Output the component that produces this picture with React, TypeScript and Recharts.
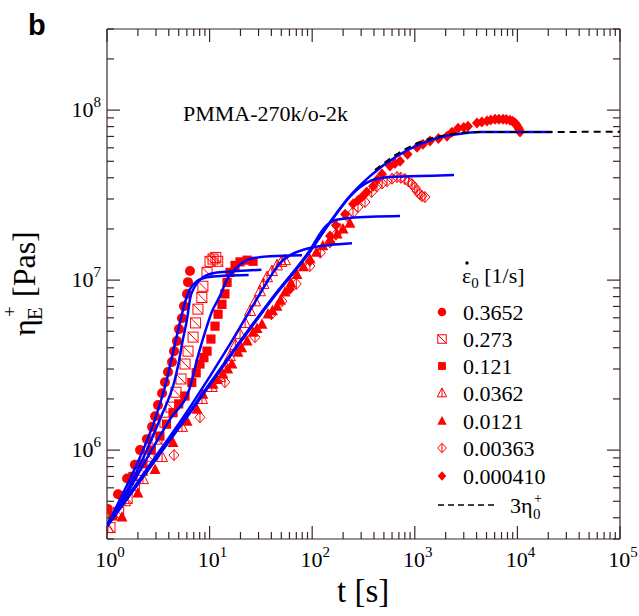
import React from 'react';
import { ComposedChart, XAxis, YAxis, Scatter, Line } from 'recharts';

const SERIF = 'Liberation Serif';
const SANS = 'Liberation Sans';
const RED = '#ff0000';
const BLUE = '#0000ff';
const FRAME = '#3a2626';

// strain rates [1/s] shown in the legend, and the marker used for each
const rateLabels = ['0.3652', '0.273', '0.121', '0.0362', '0.0121', '0.00363', '0.000410'];
const markerKinds = ['circle', 'squareOpen', 'square', 'triOpen', 'tri', 'diaOpen', 'dia'];

// measured eta_E+ [Pa s] vs t [s], one pair of arrays per rate
const tR1 = [1.02, 1.28, 1.57, 1.87, 2.1, 2.45, 2.75, 2.94, 3.14, 3.44, 3.67, 3.93, 4.3, 4.5, 4.8, 5.03, 5.38, 5.63, 6.02, 6.16, 6.44];
const etaR1 = [4.5e5, 5.5e5, 6.8e5, 8.2e5, 1.0e6, 1.16e6, 1.37e6, 1.58e6, 1.84e6, 2.16e6, 2.51e6, 2.88e6, 3.3e6, 3.82e6, 4.38e6, 5.15e6, 5.97e6, 7.03e6, 8.28e6, 9.73e6, 1.13e7];

const tR2 = [1.07, 1.3, 1.57, 1.85, 2.2, 2.57, 3.07, 3.67, 4.2, 4.7, 5.26, 5.76, 6.16, 6.9, 7.3, 7.7, 8.4, 8.6, 9.44, 10.1, 10.8, 11.5, 12.0];
const etaR2 = [3.5e5, 4.3e5, 5.2e5, 6.2e5, 7.6e5, 9.2e5, 1.16e6, 1.46e6, 1.79e6, 2.19e6, 2.62e6, 3.21e6, 3.82e6, 4.62e6, 5.6e6, 6.75e6, 7.9e6, 9.2e6, 1.11e7, 1.29e7, 1.33e7, 1.36e7, 1.29e7];

const tR3 = [1.14, 1.43, 1.79, 2.24, 2.7, 3.28, 3.8, 4.4, 5.0, 5.76, 6.7, 7.4, 8.06, 8.8, 9.44, 10.3, 11.3, 12.1, 13.2, 14.1, 14.8, 15.8, 17.7, 19.8, 23.2, 26.5];
const etaR3 = [4.1e5, 5.4e5, 7.0e5, 8.3e5, 1.0e6, 1.21e6, 1.42e6, 1.66e6, 1.87e6, 2.08e6, 2.5e6, 2.85e6, 3.21e6, 3.5e6, 3.82e6, 4.5e6, 5.36e6, 6.3e6, 7.2e6, 8.3e6, 9.7e6, 1.11e7, 1.22e7, 1.28e7, 1.31e7, 1.29e7];

const tR4 = [1.02, 1.5, 2.24, 3.44, 5.38, 8.43, 10.5, 12.6, 14.2, 15.8, 17.8, 19.8, 22.2, 24.8, 27.8, 31, 33.5, 36.3, 40.5, 45.4, 50, 54.3];
const etaR4 = [3.48e5, 5.0e5, 6.75e5, 9.1e5, 1.37e6, 2.0e6, 2.35e6, 2.69e6, 3.1e6, 3.57e6, 4.15e6, 4.81e6, 5.6e6, 6.58e6, 7.5e6, 8.6e6, 9.5e6, 1.04e7, 1.13e7, 1.22e7, 1.28e7, 1.31e7];

const tR5 = [1.4, 2.0, 2.94, 4.4, 6.03, 7.54, 8.6, 10.8, 11.9, 13.5, 15, 16.5, 18.9, 20.5, 23.2, 26.5, 29, 32.4, 37.1, 41, 45.4, 49, 54.3, 62, 71, 82, 95, 110, 127, 150, 175, 200, 233];
const etaR5 = [4.04e5, 5.6e5, 7.7e5, 1.11e6, 1.48e6, 1.74e6, 2.13e6, 2.44e6, 2.6e6, 2.8e6, 3.0e6, 3.21e6, 3.77e6, 4.0e6, 4.38e6, 4.94e6, 5.2e6, 5.5e6, 6.31e6, 6.6e6, 7.03e6, 7.6e6, 8.5e6, 9.6e6, 1.08e7, 1.2e7, 1.33e7, 1.46e7, 1.59e7, 1.73e7, 1.87e7, 2.0e7, 2.16e7];

const tR6 = [4.5, 8.06, 14.1, 27.7, 40, 50.8, 70, 95, 120, 149, 170, 187, 223, 250, 279, 327, 380, 428, 480, 536, 600, 671, 730, 802, 870, 939, 1000, 1050, 1120, 1175, 1256];
const etaR6 = [9.35e5, 1.56e6, 2.51e6, 4.62e6, 6.3e6, 7.52e6, 9.5e6, 1.21e7, 1.45e7, 1.67e7, 1.85e7, 2.0e7, 2.35e7, 2.5e7, 2.69e7, 2.88e7, 3.3e7, 3.57e7, 3.7e7, 3.82e7, 3.95e7, 4.04e7, 4.0e7, 3.93e7, 3.8e7, 3.67e7, 3.5e7, 3.34e7, 3.2e7, 3.12e7, 3.08e7];

const tR7 = [60.8, 95, 149, 170, 209, 250, 280, 306, 340, 392, 430, 479, 573, 640, 718, 850, 1050, 1200, 1407, 1700, 2060, 2300, 2640, 3000, 3300, 4036, 4500, 5057, 5500, 6050, 6600, 7244, 7800, 8470, 9000, 9480, 9800, 10140, 10400, 10600];
const etaR7 = [8.85e6, 1.29e7, 1.82e7, 2.1e7, 2.44e7, 2.8e7, 2.95e7, 3.08e7, 3.3e7, 3.57e7, 3.9e7, 4.21e7, 4.69e7, 4.85e7, 5.01e7, 5.5e7, 6.05e7, 6.3e7, 6.58e7, 6.8e7, 7.03e7, 7.4e7, 7.83e7, 7.9e7, 8.05e7, 8.4e7, 8.5e7, 8.62e7, 8.75e7, 8.85e7, 8.85e7, 8.85e7, 8.8e7, 8.73e7, 8.6e7, 8.4e7, 8.2e7, 7.94e7, 7.7e7, 7.43e7];

// model predictions (blue lines)
const tF1 = [1, 1.5, 2.1, 2.94, 3.84, 4.4, 5.15, 5.76, 6.44, 7.54, 9.44, 13.5, 24];
const etaF1 = [3.6e5, 5.9e5, 9.1e5, 1.52e6, 2.62e6, 3.77e6, 5.66e6, 7.43e6, 8.85e6, 9.87e6, 1.04e7, 1.06e7, 1.07e7];
const tF2 = [1, 1.5, 2.35, 3.28, 4.6, 4.92, 5.5, 6.03, 6.44, 7.2, 8.6, 11.8, 18.5, 32];
const etaF2 = [3.6e5, 5.5e5, 9.5e5, 1.52e6, 2.62e6, 3.12e6, 4.5e6, 5.9e6, 7.73e6, 9.2e6, 1.04e7, 1.11e7, 1.13e7, 1.15e7];
const tF3 = [1, 1.5, 2.51, 4.11, 6.44, 7.7, 9.02, 10.6, 12.6, 14.8, 18.5, 24.8, 38.8, 79.5];
const etaF3 = [3.6e5, 5.3e5, 9.2e5, 1.52e6, 2.35e6, 3.57e6, 4.94e6, 6.58e6, 8.05e6, 1.01e7, 1.19e7, 1.33e7, 1.38e7, 1.4e7];
const tF4 = [1, 2.62, 6.44, 15.8, 27.7, 38.8, 48.5, 60.8, 85, 149, 244];
const etaF4 = [3.6e5, 8.2e5, 1.79e6, 4.2e6, 7.43e6, 1.04e7, 1.26e7, 1.4e7, 1.52e7, 1.61e7, 1.65e7];
const tF5 = [1, 2.62, 6.44, 15.8, 40.5, 95, 133, 167, 233, 718];
const etaF5 = [3.57e5, 7.94e5, 1.69e6, 3.62e6, 7.8e6, 1.5e7, 2.05e7, 2.25e7, 2.32e7, 2.38e7];
const tF6 = [1, 2.62, 6.44, 15.8, 40.5, 95, 149, 233, 292, 383, 573, 1125, 2410];
const etaF6 = [3.57e5, 7.9e5, 1.66e6, 3.55e6, 7.7e6, 1.47e7, 2.18e7, 3.1e7, 3.52e7, 3.87e7, 4.04e7, 4.09e7, 4.15e7];
const tF7 = [1, 2.62, 6.44, 15.8, 40.5, 95, 149, 233, 366, 671, 1125, 1762, 2580, 4320, 21700];
const etaF7 = [3.57e5, 7.94e5, 1.67e6, 3.57e6, 7.73e6, 1.48e7, 2.19e7, 3.12e7, 4.09e7, 5.36e7, 6.31e7, 6.93e7, 7.22e7, 7.43e7, 7.43e7];

// 3 eta0+ (linear viscoelastic envelope), dashed
const tLve = [409, 671, 1125, 1762, 2756, 4320, 100000];
const etaLve = [4.44e7, 5.51e7, 6.49e7, 7.03e7, 7.33e7, 7.43e7, 7.45e7];

const toPts = (ts: number[], es: number[]) => ts.map((t, i) => ({ t, y: es[i] }));

const measured = [
  toPts(tR1, etaR1), toPts(tR2, etaR2), toPts(tR3, etaR3), toPts(tR4, etaR4),
  toPts(tR5, etaR5), toPts(tR6, etaR6), toPts(tR7, etaR7),
];
const fits = [
  toPts(tF1, etaF1), toPts(tF2, etaF2), toPts(tF3, etaF3), toPts(tF4, etaF4),
  toPts(tF5, etaF5), toPts(tF6, etaF6), toPts(tF7, etaF7),
];
const lve = toPts(tLve, etaLve);

const xTicks: number[] = [];
for (let d = 0; d < 5; d++) for (let m = 1; m < 10; m++) xTicks.push(m * 10 ** d);
xTicks.push(1e5);
const yTicks: number[] = [];
for (let d = 5; d < 9; d++) for (let m = 1; m < 10; m++) {
  const v = m * 10 ** d;
  if (v >= 3e5 && v <= 3e8) yTicks.push(v);
}

const expOf = (v: number) => Math.round(Math.log10(v));
const isMajor = (v: number) => Math.abs(v - 10 ** expOf(v)) < 1e-6 * v;
const tickLen = (v: number) => (isMajor(v) ? 13 : 7);

function Marker({ kind, cx, cy, s = 1 }: { kind: string; cx: number; cy: number; s?: number }) {
  const r = 5 * s;
  switch (kind) {
    case 'circle':
      return <circle cx={cx} cy={cy} r={r} fill={RED} />;
    case 'squareOpen':
      return (
        <g stroke={RED} strokeWidth={1} fill="none">
          <rect x={cx - r} y={cy - r} width={2 * r} height={2 * r} />
          <line x1={cx - r} y1={cy - r} x2={cx + r} y2={cy + r} />
        </g>
      );
    case 'square':
      return <rect x={cx - 4.6 * s} y={cy - 4.6 * s} width={9.2 * s} height={9.2 * s} fill={RED} />;
    case 'triOpen':
      return (
        <g stroke={RED} strokeWidth={1} fill="none">
          <polygon points={`${cx},${cy - 6 * s} ${cx - 5.5 * s},${cy + 4.5 * s} ${cx + 5.5 * s},${cy + 4.5 * s}`} />
          <line x1={cx} y1={cy - 6 * s} x2={cx} y2={cy + 4.5 * s} />
        </g>
      );
    case 'tri':
      return <polygon points={`${cx},${cy - 6 * s} ${cx - 5.5 * s},${cy + 4.5 * s} ${cx + 5.5 * s},${cy + 4.5 * s}`} fill={RED} />;
    case 'diaOpen':
      return (
        <g stroke={RED} strokeWidth={1} fill="none">
          <polygon points={`${cx},${cy - 5.5 * s} ${cx + 5 * s},${cy} ${cx},${cy + 5.5 * s} ${cx - 5 * s},${cy}`} />
          <line x1={cx} y1={cy - 5.5 * s} x2={cx} y2={cy + 5.5 * s} />
        </g>
      );
    default:
      return <polygon points={`${cx},${cy - 5.5 * s} ${cx + 5 * s},${cy} ${cx},${cy + 5.5 * s} ${cx - 5 * s},${cy}`} fill={RED} />;
  }
}

const BottomTick = (p: any) => {
  const { x, y, payload } = p;
  const v = payload.value;
  return (
    <g>
      <line x1={x} x2={x} y1={y} y2={y - tickLen(v)} stroke={FRAME} strokeWidth={1.2} />
      {isMajor(v) && (
        <text x={x + 3} y={y + 28} textAnchor="middle" fontFamily={SERIF} fontSize={22} fill="#000">
          10<tspan dy={-10} fontSize={15}>{expOf(v)}</tspan>
        </text>
      )}
    </g>
  );
};

const TopTick = (p: any) => {
  const { x, y, payload } = p;
  return <line x1={x} x2={x} y1={y} y2={y + tickLen(payload.value)} stroke={FRAME} strokeWidth={1.2} />;
};

const LeftTick = (p: any) => {
  const { x, y, payload } = p;
  const v = payload.value;
  return (
    <g>
      <line x1={x} x2={x + tickLen(v)} y1={y} y2={y} stroke={FRAME} strokeWidth={1.2} />
      {isMajor(v) && (
        <text x={x - 6} y={y + 7} textAnchor="end" fontFamily={SERIF} fontSize={22} fill="#000">
          10<tspan dy={-10} fontSize={15}>{expOf(v)}</tspan>
        </text>
      )}
    </g>
  );
};

const RightTick = (p: any) => {
  const { x, y, payload } = p;
  return <line x1={x} x2={x - tickLen(payload.value)} y1={y} y2={y} stroke={FRAME} strokeWidth={1.2} />;
};

const legendRows = [312, 339, 366, 393, 421, 448, 476];

export default function App() {
  return (
    <div style={{ position: 'absolute', left: 0, top: 0, width: 639, height: 616, background: '#fff' }}>
      <ComposedChart width={639} height={616} margin={{ top: 0, right: 0, bottom: 0, left: 0 }}>
        <XAxis
          dataKey="t" type="number" scale="log" domain={[1, 100000]} allowDataOverflow
          ticks={xTicks} interval={0} tickSize={0} tickMargin={0} tickLine={false}
          tick={<BottomTick />} height={77}
          axisLine={{ stroke: FRAME, strokeWidth: 1.2 }}
        />
        <XAxis
          xAxisId="top" orientation="top" dataKey="t" type="number" scale="log" domain={[1, 100000]} allowDataOverflow
          ticks={xTicks} interval={0} tickSize={0} tickMargin={0} tickLine={false}
          tick={<TopTick />} height={29}
          axisLine={{ stroke: FRAME, strokeWidth: 1.2 }}
        />
        <YAxis
          dataKey="y" type="number" scale="log" domain={[3e5, 3e8]} allowDataOverflow
          ticks={yTicks} interval={0} tickSize={0} tickMargin={0} tickLine={false}
          tick={<LeftTick />} width={107}
          axisLine={{ stroke: FRAME, strokeWidth: 1.2 }}
        />
        <YAxis
          yAxisId="right" orientation="right" dataKey="y" type="number" scale="log" domain={[3e5, 3e8]} allowDataOverflow
          ticks={yTicks} interval={0} tickSize={0} tickMargin={0} tickLine={false}
          tick={<RightTick />} width={19}
          axisLine={{ stroke: FRAME, strokeWidth: 1.2 }}
        />
        {measured.map((d, i) => (
          <Scatter
            key={`m${i}`}
            data={d}
            dataKey="y"
            isAnimationActive={false}
            shape={(sp: any) => <Marker kind={markerKinds[i]} cx={sp.cx} cy={sp.cy} />}
          />
        ))}
        {fits.map((d, i) => (
          <Line
            key={`f${i}`}
            data={d}
            dataKey="y"
            type="monotone"
            stroke={BLUE}
            strokeWidth={2.5}
            dot={false}
            isAnimationActive={false}
            zIndex={700}
          />
        ))}
        <Line
          data={lve}
          dataKey="y"
          type="monotone"
          stroke="#000"
          strokeWidth={2}
          strokeDasharray="7 5"
          dot={false}
          isAnimationActive={false}
          zIndex={800}
        />
      </ComposedChart>

      <svg
        width={639}
        height={616}
        style={{ position: 'absolute', left: 0, top: 0, pointerEvents: 'none' }}
      >
        <text x={28} y={35} fontFamily={SANS} fontWeight="bold" fontSize={29}>b</text>
        <text x={183} y={121} fontFamily={SERIF} fontSize={22}>PMMA-270k/o-2k</text>

        {/* y axis title */}
        <g transform="translate(35, 336) rotate(-90)" fontFamily={SERIF} fill="#000">
          <text x={0} y={0} fontSize={32}>η</text>
          <text x={16} y={7} fontSize={21}>E</text>
          <text x={19} y={-19} fontSize={19}>+</text>
          <text x={39} y={0} fontSize={32}>[Pas]</text>
        </g>
        {/* x axis title */}
        <text x={337} y={602} fontFamily={SERIF} fontSize={33}>t [s]</text>

        {/* legend */}
        <text x={462} y={283} fontFamily={SERIF} fontSize={22}>
          ε<tspan dy={5} fontSize={15}>0</tspan>
          <tspan dy={-5}> [1/s]</tspan>
        </text>
        <circle cx={467} cy={263} r={1.7} fill="#000" />
        {rateLabels.map((lab, i) => (
          <g key={lab}>
            <Marker kind={markerKinds[i]} cx={442} cy={legendRows[i]} s={0.85} />
            <text x={463} y={legendRows[i] + 8} fontFamily={SERIF} fontSize={22}>{lab}</text>
          </g>
        ))}
        <line x1={438} x2={496} y1={505} y2={505} stroke="#000" strokeWidth={1.6} strokeDasharray="6 4" />
        <text x={510} y={513} fontFamily={SERIF} fontSize={22}>3η</text>
        <text x={533} y={519} fontFamily={SERIF} fontSize={15}>0</text>
        <text x={534} y={503} fontFamily={SERIF} fontSize={14}>+</text>
      </svg>
    </div>
  );
}
